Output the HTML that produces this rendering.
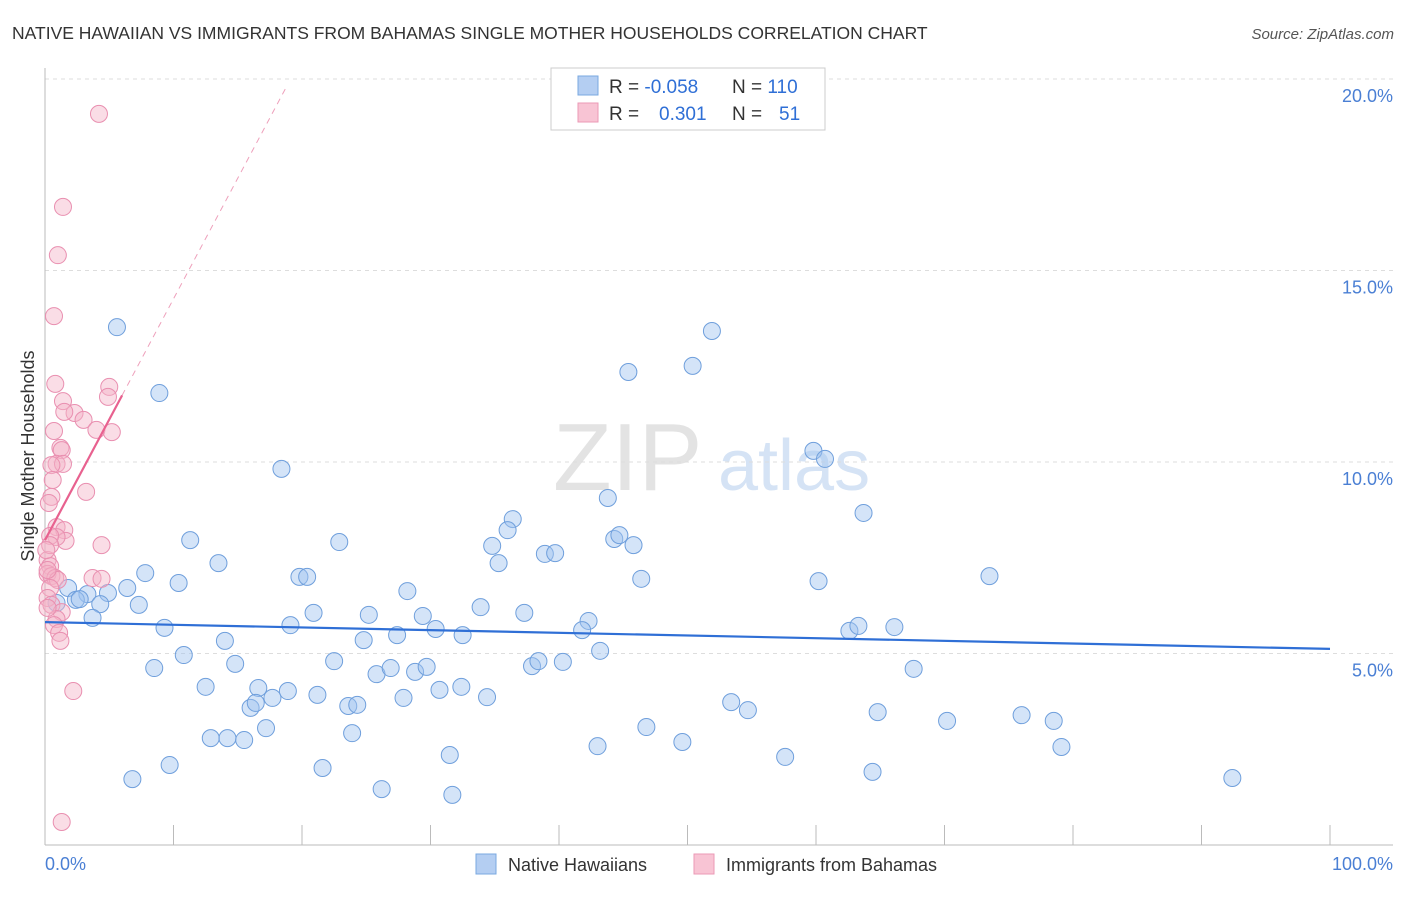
<!DOCTYPE html>
<html><head><meta charset="utf-8"><style>
body{margin:0;background:#fff;font-family:"Liberation Sans",sans-serif}
svg text{font-family:"Liberation Sans",sans-serif}
</style></head><body>
<svg width="1406" height="892" viewBox="0 0 1406 892">
<text x="12" y="39" font-size="17.5" fill="#333">NATIVE HAWAIIAN VS IMMIGRANTS FROM BAHAMAS SINGLE MOTHER HOUSEHOLDS CORRELATION CHART</text>
<text x="1394" y="39" font-size="15" fill="#555" text-anchor="end" font-style="italic">Source: ZipAtlas.com</text>
<g>
<text x="553" y="490" font-size="96" fill="#e3e3e3" font-family="Liberation Serif,serif">ZIP</text>
<text x="718" y="490" font-size="72" fill="#d5e3f5">atlas</text>
</g>
<g id="grid"></g>
<g id="axes"></g>
<text transform="translate(34,456) rotate(-90)" font-size="18" fill="#333" text-anchor="middle">Single Mother Households</text>
<text x="45" y="870" font-size="18" fill="#4a7fd4">0.0%</text>
<text x="1393" y="870" font-size="18" fill="#4a7fd4" text-anchor="end">100.0%</text>
<g id="pts"></g>
<g id="trends"></g>
<g>
<rect x="551" y="68" width="274" height="62" fill="#fff" stroke="#ccc"/>
<rect x="578" y="76" width="20" height="19" fill="#b4cef2" stroke="#7aa8e0"/>
<rect x="578" y="103" width="20" height="19" fill="#f8c4d4" stroke="#eb9ab6"/>
<text x="609" y="93" font-size="19" fill="#333">R = <tspan fill="#2f6fd6">-0.058</tspan></text>
<text x="732" y="93" font-size="19" fill="#333">N = <tspan fill="#2f6fd6">110</tspan></text>
<text x="609" y="120" font-size="19" fill="#333">R = </text>
<text x="659" y="120" font-size="19" fill="#2f6fd6">0.301</text>
<text x="732" y="120" font-size="19" fill="#333">N = </text>
<text x="779" y="120" font-size="19" fill="#2f6fd6">51</text>
</g>
<g>
<rect x="476" y="854" width="20" height="20" fill="#b4cef2" stroke="#7aa8e0"/>
<text x="508" y="871" font-size="18" fill="#333">Native Hawaiians</text>
<rect x="694" y="854" width="20" height="20" fill="#f8c4d4" stroke="#eb9ab6"/>
<text x="726" y="871" font-size="18" fill="#333">Immigrants from Bahamas</text>
</g>
</svg>
<script>
const yTicks=[5,10,15,20];
const yTickLabels=["5.0%","10.0%","15.0%","20.0%"];
const xTicks=[10,20,30,40,50,60,70,80,90,100];
const blueX=[5.6,8.9,18.4,51.9,45.4,50.4,59.8,60.7,63.7,73.5,43.8,36.4,36.0,34.8,35.3,38.9,39.7,44.3,44.7,45.8,46.4,60.2,11.3,13.5,7.8,10.4,6.4,4.9,3.3,1.8,2.4,2.7,4.3,7.3,0.9,3.7,9.3,19.8,20.4,22.9,28.2,33.9,20.9,25.2,29.4,37.3,42.3,41.8,30.4,32.5,27.4,24.8,19.1,14.0,10.8,8.5,14.8,22.5,25.8,26.9,28.8,29.7,37.9,38.4,40.3,43.2,62.6,63.3,66.1,67.6,12.5,16.6,18.9,17.7,21.2,27.9,30.7,32.4,34.4,16.0,16.4,23.6,24.3,17.2,23.9,12.9,14.2,15.5,53.4,54.7,64.8,70.2,76.0,78.5,79.1,46.8,49.6,43.0,31.5,57.6,9.7,21.6,6.8,26.2,31.7,64.4,92.4];
const blueY=[13.52,11.8,9.82,13.42,12.35,12.51,10.29,10.08,8.67,7.02,9.06,8.51,8.22,7.81,7.36,7.6,7.62,7.99,8.09,7.83,6.95,6.89,7.96,7.36,7.1,6.84,6.71,6.58,6.55,6.71,6.4,6.42,6.29,6.27,6.32,5.93,5.67,7.0,7.0,7.91,6.63,6.21,6.06,6.01,5.98,6.06,5.85,5.61,5.64,5.48,5.48,5.35,5.74,5.33,4.96,4.62,4.73,4.8,4.46,4.62,4.52,4.65,4.67,4.8,4.78,5.07,5.59,5.72,5.69,4.6,4.13,4.1,4.02,3.84,3.92,3.84,4.05,4.13,3.86,3.58,3.71,3.63,3.66,3.05,2.92,2.79,2.79,2.74,3.73,3.52,3.47,3.24,3.39,3.24,2.56,3.08,2.69,2.58,2.35,2.3,2.09,2.01,1.72,1.46,1.31,1.91,1.75];
const pinkX=[4.2,1.4,1.0,0.7,0.8,5.0,4.9,1.4,2.3,1.5,3.0,4.0,5.2,0.7,1.2,1.3,0.9,1.4,0.5,3.2,0.6,0.5,0.3,0.9,1.5,1.6,0.9,4.4,0.4,0.2,0.4,3.7,4.4,0.2,0.5,0.8,1.0,0.4,0.2,0.5,1.3,0.9,0.7,1.1,1.2,2.2,1.3,0.4,0.1,0.2,0.2];
const pinkY=[19.09,16.66,15.4,13.81,12.04,11.96,11.7,11.59,11.28,11.31,11.1,10.84,10.78,10.81,10.37,10.31,9.95,9.95,9.92,9.22,9.53,9.09,8.93,8.3,8.22,7.94,8.04,7.83,8.07,7.44,7.28,6.97,6.95,7.08,7.02,6.97,6.92,6.71,6.45,6.27,6.08,5.9,5.74,5.54,5.33,4.02,0.6,7.83,7.7,7.18,6.19];
const blueTrend=[5.82,5.12];
const pinkTrend=[7.96,0.63];
const pinkSolidEnd=6.0;
const pinkDashEnd=18.7;

const NS="http://www.w3.org/2000/svg";
const X0=45,X1=1330,Y0=845,PX_PER_Y=38.3;
function sx(v){return X0+(X1-X0)*v/100;}
function sy(v){return Y0-v*PX_PER_Y;}
function mk(tag,attrs,parent){const e=document.createElementNS(NS,tag);for(const k in attrs)e.setAttribute(k,attrs[k]);parent.appendChild(e);return e;}
const grid=document.getElementById('grid');
yTicks.forEach((t,i)=>{
  const l=mk('line',{x1:X0,x2:1393,y1:sy(t),y2:sy(t),stroke:'#ddd','stroke-dasharray':'4,4'},grid);
  
  
  const tx=mk('text',{x:1393,y:sy(t)+23,'font-size':18,fill:'#4a7fd4','text-anchor':'end'},grid);
  tx.textContent=yTickLabels[i];
  
  
});
const ax=document.getElementById('axes');
const la=mk('line',{x1:X0,x2:X0,y1:68,y2:Y0,stroke:'#bbb'},ax);


const lb=mk('line',{x1:X0,x2:1393,y1:Y0,y2:Y0,stroke:'#bbb'},ax);


xTicks.forEach(t=>{
  const l=mk('line',{x1:sx(t),x2:sx(t),y1:Y0-20,y2:Y0,stroke:'#bbb'},ax);
  
  
});
const pts=document.getElementById('pts');
blueX.forEach((x,i)=>{
  const c=mk('circle',{cx:sx(x),cy:sy(blueY[i]),r:8.5,fill:'rgba(160,195,240,0.45)',stroke:'#6f9fdc','stroke-width':1},pts);
  
  
});
pinkX.forEach((x,i)=>{
  const c=mk('circle',{cx:sx(x),cy:sy(pinkY[i]),r:8.5,fill:'rgba(245,180,200,0.45)',stroke:'#e98fb0','stroke-width':1},pts);
  
  
});
const tr=document.getElementById('trends');
const bt=mk('line',{x1:sx(0),y1:sy(blueTrend[0]),x2:sx(100),y2:sy(blueTrend[1]),stroke:'#2f6fd6','stroke-width':2.2},tr);


const pd=mk('line',{x1:sx(pinkSolidEnd),y1:sy(pinkTrend[0]+pinkTrend[1]*pinkSolidEnd),x2:sx(pinkDashEnd),y2:sy(pinkTrend[0]+pinkTrend[1]*pinkDashEnd),stroke:'#eea0bb','stroke-width':1,'stroke-dasharray':'6,5'},tr);


const ps=mk('line',{x1:sx(0),y1:sy(pinkTrend[0]),x2:sx(pinkSolidEnd),y2:sy(pinkTrend[0]+pinkTrend[1]*pinkSolidEnd),stroke:'#e8618f','stroke-width':2.2},tr);


</script>
</body></html>
